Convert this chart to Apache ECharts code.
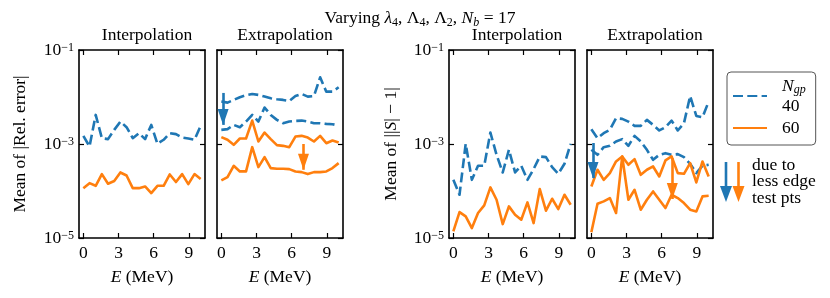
<!DOCTYPE html>
<html>
<head>
<meta charset="utf-8">
<script src="https://cdn.jsdelivr.net/npm/echarts@6/dist/echarts.min.js"></script>
<style>html,body{margin:0;padding:0;background:#fff;}#c{width:830px;height:298px;}</style>
</head>
<body>
<div id="c"></div>
<script>
// ---- data ----
const energies = [0, 0.526, 1.053, 1.579, 2.105, 2.632, 3.158, 3.684, 4.211, 4.737, 5.263, 5.789, 6.316, 6.842, 7.368, 7.895, 8.421, 8.947, 9.474, 10];
const xTickValues = [0, 3, 6, 9];
const yTickValues = [1e-5, 1e-3, 1e-1];
const yTickExps = ['−5', '−3', '−1'];

const interpRelErr40 = [1.49e-3, 8.85e-4, 4.16e-3, 1.33e-3, 1.27e-3, 2.0e-3, 3.0e-3, 2.28e-3, 1.33e-3, 1.70e-3, 1.27e-3, 2.55e-3, 1.01e-3, 1.23e-3, 1.70e-3, 1.62e-3, 1.37e-3, 1.31e-3, 1.23e-3, 2.43e-3];
const interpRelErr60 = [1.15e-4, 1.47e-4, 1.29e-4, 2.29e-4, 1.43e-4, 1.63e-4, 2.48e-4, 2.14e-4, 1.15e-4, 1.15e-4, 1.25e-4, 9.0e-5, 1.29e-4, 1.29e-4, 2.25e-4, 1.55e-4, 2.29e-4, 1.40e-4, 2.29e-4, 1.79e-4];
const extrapRelErr40a = [8.0e-3, 7.6e-3, 8.67e-3, 9.9e-3, 1.09e-2, 1.16e-2, 1.11e-2, 1.02e-2, 9.4e-3, 8.95e-3, 8.67e-3, 8.26e-3, 1.05e-2, 1.16e-2, 1.02e-2, 1.05e-2, 2.62e-2, 1.30e-2, 1.30e-2, 1.61e-2];
const extrapRelErr40b = [2.0e-3, 2.07e-3, 2.55e-3, 2.28e-3, 3.0e-3, 4.16e-3, 3.0e-3, 5.96e-3, 4.16e-3, 3.26e-3, 2.77e-3, 3.0e-3, 3.10e-3, 3.15e-3, 3.0e-3, 2.77e-3, 2.77e-3, 2.68e-3, 2.64e-3, 2.47e-3];
const extrapRelErr60a = [1.40e-3, 1.23e-3, 9.6e-4, 1.31e-3, 1.31e-3, 3.15e-3, 1.13e-3, 1.75e-3, 1.27e-3, 9.45e-4, 9.14e-4, 8.57e-4, 1.44e-3, 1.49e-3, 1.37e-3, 1.13e-3, 1.49e-3, 1.04e-3, 1.19e-3, 1.08e-3];
const extrapRelErr60b = [1.68e-4, 1.98e-4, 3.44e-4, 2.61e-4, 2.61e-4, 8.57e-4, 3.22e-4, 5.25e-4, 3.07e-4, 2.97e-4, 2.97e-4, 2.92e-4, 2.61e-4, 2.52e-4, 2.29e-4, 2.52e-4, 2.52e-4, 2.61e-4, 3.07e-4, 3.92e-4];
const interpS40 = [1.73e-4, 8.32e-5, 1.01e-3, 1.73e-4, 3.44e-4, 3.44e-4, 1.75e-3, 5.89e-4, 2.48e-4, 7.52e-4, 2.48e-4, 3.44e-4, 1.73e-4, 2.92e-4, 5.43e-4, 5.25e-4, 3.22e-4, 2.32e-4, 3.79e-4, 1.01e-3];
const interpS60 = [1.39e-5, 3.56e-5, 2.88e-5, 1.63e-5, 3.40e-5, 4.94e-5, 1.19e-4, 6.52e-5, 1.98e-5, 4.71e-5, 3.13e-5, 2.45e-5, 5.73e-5, 2.08e-5, 1.10e-4, 3.81e-5, 6.84e-5, 4.13e-5, 8.32e-5, 5.1e-5];
const extrapS40a = [2.07e-3, 1.33e-3, 1.70e-3, 2.0e-3, 3.54e-3, 3.43e-3, 3.0e-3, 2.43e-3, 2.43e-3, 3.26e-3, 2.55e-3, 1.94e-3, 2.28e-3, 3.15e-3, 1.94e-3, 2.77e-3, 1.05e-2, 3.96e-3, 3.72e-3, 8.0e-3];
const extrapS40b = [7.52e-4, 5.89e-4, 8.57e-4, 9.14e-4, 1.13e-3, 1.27e-3, 9.14e-4, 1.49e-3, 1.13e-3, 7.52e-4, 4.61e-4, 5.89e-4, 6.38e-4, 5.89e-4, 6.08e-4, 5.25e-4, 3.79e-4, 2.40e-4, 3.44e-4, 3.61e-4];
const extrapS60a = [1.25e-4, 2.83e-4, 1.73e-4, 2.40e-4, 4.25e-4, 5.43e-4, 3.61e-4, 4.76e-4, 2.21e-4, 2.83e-4, 3.33e-4, 2.04e-4, 4.47e-4, 5.43e-4, 2.40e-4, 2.32e-4, 3.92e-4, 1.52e-4, 4.25e-4, 2.04e-4];
const extrapS60b = [1.32e-5, 5.36e-5, 6.01e-5, 7.08e-5, 3.40e-5, 5.43e-4, 6.52e-5, 1.06e-4, 4.0e-5, 6.52e-5, 9.8e-5, 6.52e-5, 4.34e-5, 8.32e-5, 7.08e-5, 5.53e-5, 4.0e-5, 3.68e-5, 7.67e-5, 7.93e-5];

// arrows: panel, N_gp, E, from value, to (tip) value
const arrowMarks = [
  { panel: 1, ngp: '40', x: 0.15, from: 1.22e-2, to: 2.55e-3 },
  { panel: 1, ngp: '60', x: 7.0, from: 1.0e-3, to: 2.83e-4 },
  { panel: 3, ngp: '40', x: 0.14, from: 1.05e-3, to: 1.88e-4 },
  { panel: 3, ngp: '60', x: 6.9, from: 5.0e-4, to: 6.75e-5 }
];

const panelTitles = ['Interpolation', 'Extrapolation', 'Interpolation', 'Extrapolation'];
const panelSeries = [
  [['40', interpRelErr40], ['60', interpRelErr60]],
  [['40', extrapRelErr40a], ['40', extrapRelErr40b], ['60', extrapRelErr60a], ['60', extrapRelErr60b]],
  [['40', interpS40], ['60', interpS60]],
  [['40', extrapS40a], ['40', extrapS40b], ['60', extrapS60a], ['60', extrapS60b]]
];

// ---- styling ----
const FONT = 'Liberation Serif';
const BLUE = '#1f77b4', ORANGE = '#ff7f0e';
const colorOf = { '40': BLUE, '60': ORANGE };
const gridLefts = [79, 217, 449, 587];
const GW = 126, GTOP = 50, GH = 188;
const FS = 17.5;

const baseRich = {
  i: { fontFamily: FONT, fontStyle: 'italic', fontWeight: 'normal', fontSize: FS, color: '#000' },
  b: { fontFamily: FONT, fontSize: FS, lineHeight: 17, color: '#000' },
  s: { fontFamily: FONT, fontSize: 12, lineHeight: 10, verticalAlign: 'top', color: '#000' }
};

const grids = [], xAxes = [], yAxes = [], series = [], titles = [];
const axisLine = { show: true, onZero: false, lineStyle: { color: '#000', width: 1.6 } };

titles.push({
  text: '{r|Varying }{i|λ}{sb|4}{r|, Λ}{sb|4}{r|, Λ}{sb|2}{r|, }{i|N}{sbi|b}{r| = 17}',
  left: 415, top: 2, textAlign: 'center',
  textStyle: {
    fontWeight: 'normal', fontFamily: FONT, fontSize: FS,
    rich: {
      r: { fontFamily: FONT, fontWeight: 'normal', fontSize: FS, lineHeight: 22, color: '#000' },
      i: { fontFamily: FONT, fontWeight: 'normal', fontSize: FS, fontStyle: 'italic', lineHeight: 22, color: '#000' },
      sb: { fontFamily: FONT, fontWeight: 'normal', fontSize: 12, lineHeight: 14, verticalAlign: 'bottom', color: '#000' },
      sbi: { fontFamily: FONT, fontWeight: 'normal', fontSize: 12, fontStyle: 'italic', lineHeight: 14, verticalAlign: 'bottom', color: '#000' }
    }
  }
});

for (let g = 0; g < 4; g++) {
  grids.push({ left: gridLefts[g], top: GTOP, width: GW, height: GH, containLabel: false });
  titles.push({
    text: panelTitles[g], left: gridLefts[g] + GW / 2, top: 21, textAlign: 'center',
    textStyle: { fontFamily: FONT, fontSize: FS, fontWeight: 'normal', color: '#000' }
  });
  const xBase = {
    type: 'value', gridIndex: g, min: -0.37, max: 10.37,
    axisLine, splitLine: { show: false },
    axisTick: { show: true, inside: true, length: 5, lineStyle: { color: '#000', width: 1.2 }, customValues: xTickValues }
  };
  xAxes.push(Object.assign({}, xBase, {
    position: 'bottom',
    axisLabel: { show: true, margin: 6, customValues: xTickValues, fontFamily: FONT, fontSize: FS, color: '#000' },
    name: '{i|E} (MeV)', nameLocation: 'middle', nameGap: 30,
    nameTextStyle: { fontFamily: FONT, fontSize: FS, color: '#000', rich: { i: baseRich.i } }
  }));
  xAxes.push(Object.assign({}, xBase, { position: 'top', axisLabel: { show: false } }));

  const yBase = {
    type: 'log', logBase: 10, gridIndex: g, min: 1e-5, max: 1e-1,
    axisLine, splitLine: { show: false }, minorTick: { show: false },
    axisTick: { show: true, inside: true, length: 5, lineStyle: { color: '#000', width: 1.2 }, customValues: yTickValues }
  };
  const showLab = (g === 0 || g === 2);
  const yLeft = Object.assign({}, yBase, {
    position: 'left',
    axisLabel: {
      show: showLab, margin: 5, customValues: yTickValues,
      formatter: function (v) {
        const k = yTickValues.findIndex(t => Math.abs(Math.log10(t) - Math.log10(v)) < 0.01);
        return '{b|10}{s|' + yTickExps[k] + '}';
      },
      rich: { b: baseRich.b, s: baseRich.s }
    }
  });
  if (showLab) {
    yLeft.name = g === 0 ? 'Mean of |Rel. error|' : 'Mean of ||{i|S}| − 1|';
    yLeft.nameLocation = 'middle';
    yLeft.nameGap = g === 0 ? 50 : 49;
    yLeft.nameTextStyle = { fontFamily: FONT, fontSize: FS, color: '#000', rich: { i: baseRich.i } };
  }
  yAxes.push(yLeft);
  yAxes.push(Object.assign({}, yBase, { position: 'right', axisLabel: { show: false } }));

  const used = {};
  panelSeries[g].forEach(([ngp, arr]) => {
    const s = {
      type: 'line', name: ngp, xAxisIndex: 2 * g, yAxisIndex: 2 * g,
      data: energies.map((e, i) => [e, arr[i]]),
      symbol: 'none', silent: true, animation: false,
      color: colorOf[ngp],
      lineStyle: { color: colorOf[ngp], width: 2.6, type: ngp === '40' ? [10, 4.3] : 'solid', cap: 'butt', join: 'round' },
      z: ngp === '40' ? 2 : 3
    };
    if (!used[ngp]) {
      used[ngp] = true;
      const marks = arrowMarks.filter(a => a.panel === g && a.ngp === ngp);
      if (marks.length) {
        s.markLine = {
          silent: true, animation: false, symbol: ['none', 'triangle'], symbolSize: [11, 16],
          symbolOffset: [[0, 0], [0, 8]],
          label: { show: false }, z: 10,
          lineStyle: { color: colorOf[ngp], width: 2.6, type: 'solid' },
          emphasis: { disabled: true },
          data: marks.map(a => [{ coord: [a.x, a.from] }, { coord: [a.x, a.to] }])
        };
      }
    }
    series.push(s);
  });
}

const chart = echarts.init(document.getElementById('c'), null, { renderer: 'canvas' });
chart.setOption({
  animation: false,
  title: titles,
  grid: grids,
  xAxis: xAxes,
  yAxis: yAxes,
  series: series,
  legend: {
    data: ['40', '60'], orient: 'vertical', left: 727, top: 72,
    padding: [5, 10, 8, 5], itemWidth: 34, itemHeight: 12, itemGap: 4,
    backgroundColor: '#fff', borderColor: '#555', borderWidth: 1, borderRadius: 4,
    selectedMode: false,
    itemStyle: { opacity: 0 },
    formatter: function (name) { return name === '40' ? '{n|N}{g|gp}\n{t|40}' : '{t|60}'; },
    textStyle: {
      padding: [0, 0, 0, 10],
      rich: {
        n: { fontFamily: FONT, fontStyle: 'italic', fontSize: FS, lineHeight: 20, color: '#000' },
        g: { fontFamily: FONT, fontStyle: 'italic', fontSize: 12, lineHeight: 14, verticalAlign: 'bottom', color: '#000' },
        t: { fontFamily: FONT, fontSize: FS, lineHeight: 20, color: '#000' }
      }
    }
  },
  graphic: [
    { type: 'line', shape: { x1: 726, y1: 162, x2: 726, y2: 190 }, style: { stroke: BLUE, lineWidth: 2.6 } },
    { type: 'polygon', shape: { points: [[720, 186], [732, 186], [726, 202]] }, style: { fill: BLUE } },
    { type: 'line', shape: { x1: 738.5, y1: 162, x2: 738.5, y2: 190 }, style: { stroke: ORANGE, lineWidth: 2.6 } },
    { type: 'polygon', shape: { points: [[732.5, 186], [744.5, 186], [738.5, 202]] }, style: { fill: ORANGE } },
    { type: 'text', left: 752, top: 156, style: { text: 'due to\nless edge\ntest pts', fontFamily: FONT, fontSize: FS, lineHeight: 16.7, fill: '#000' } }
  ]
});
</script>
</body>
</html>
